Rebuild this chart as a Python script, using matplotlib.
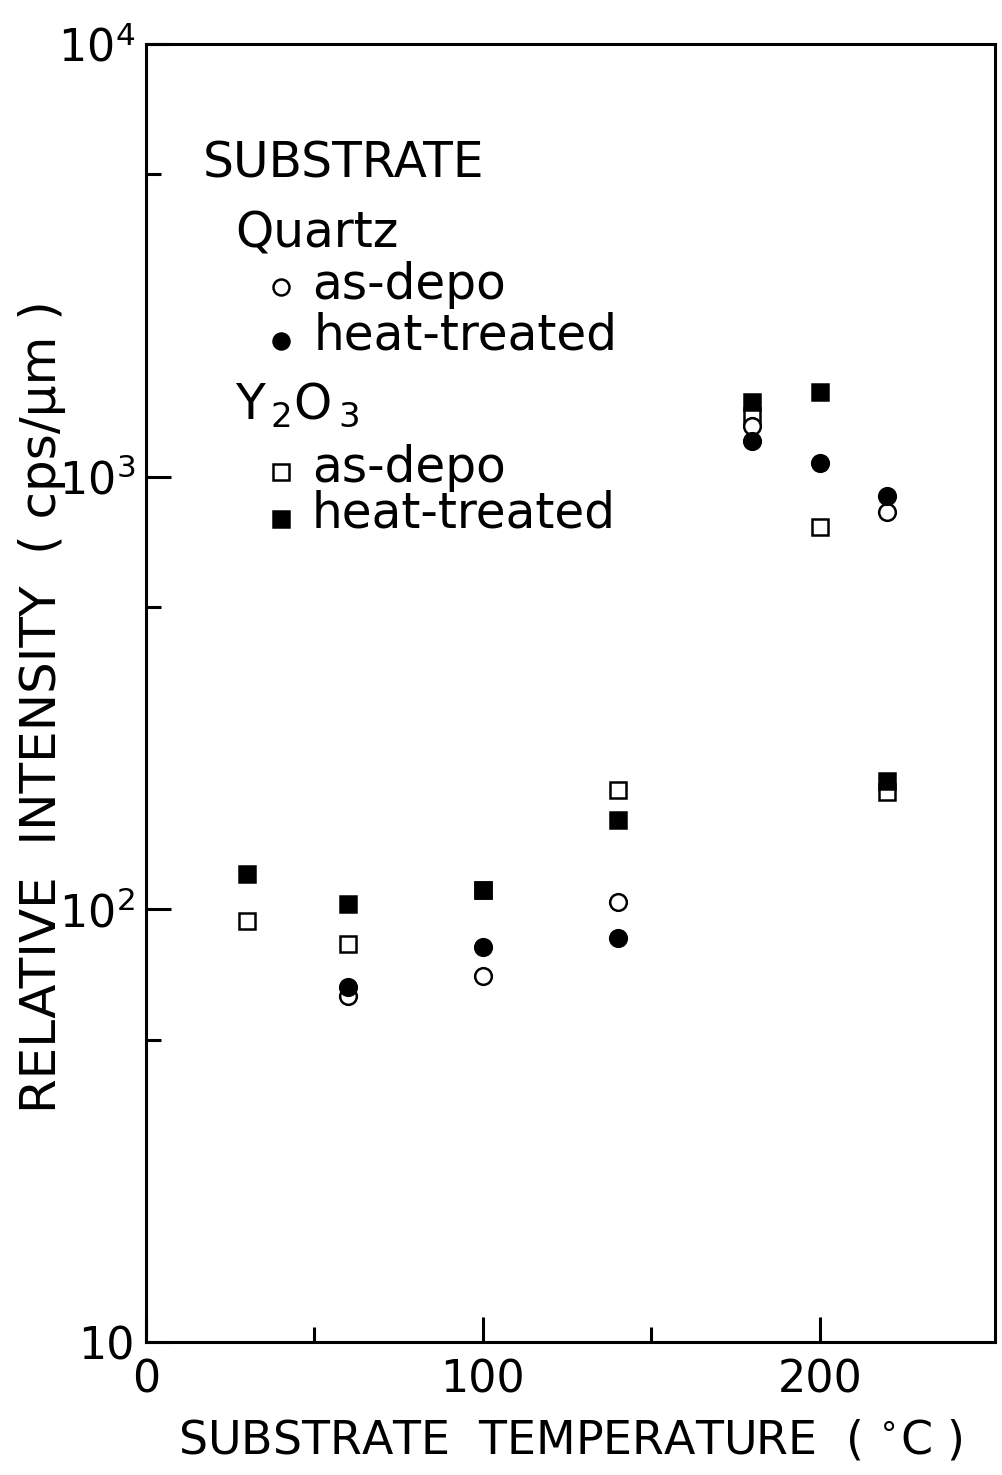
import matplotlib
matplotlib.use("Agg")
import matplotlib.pyplot as plt
from matplotlib.ticker import FixedLocator, FixedFormatter

# Relative intensity vs. substrate temperature
temp_c = [30, 60, 100, 140, 180, 200, 220]

quartz_as_depo_t = [60, 100, 140, 180, 220]
quartz_as_depo = [63, 70, 104, 1310, 830]

quartz_heat_t = [60, 100, 140, 180, 200, 220]
quartz_heat = [66, 82, 86, 1210, 1077, 900]

y2o3_as_depo_t = [30, 60, 100, 140, 180, 200, 220]
y2o3_as_depo = [94, 83, 111, 189, 1380, 767, 187]

y2o3_heat_t = [30, 60, 100, 140, 180, 200, 220]
y2o3_heat = [121, 103, 111, 161, 1490, 1570, 198]

y_major = [10, 100, 1000, 10000]
y_major_labels = ["10", "10$^2$", "10$^3$", "10$^4$"]
y_minor = [50, 500, 5000]
x_major = [0, 100, 200]
x_major_labels = ["0", "100", "200"]
x_minor = [50, 150]

plt.rcParams["font.family"] = ["DejaVu Sans"]
plt.rcParams["mathtext.fontset"] = "dejavusans"

fig = plt.figure(figsize=(10.02, 14.75), dpi=100)
ax = fig.add_axes([146 / 1002, 133 / 1475, (995 - 146) / 1002, (1342 - 44) / 1475])

ax.set_yscale("log")
ax.set_xlim(0, 252)
ax.set_ylim(10, 10000)

ms = 12
ew = 1.8
ax.plot(y2o3_as_depo_t, y2o3_as_depo, "s", ms=ms, mfc="white", mec="black", mew=ew, ls="none")
ax.plot(quartz_as_depo_t, quartz_as_depo, "o", ms=ms, mfc="white", mec="black", mew=ew, ls="none")
ax.plot(y2o3_heat_t, y2o3_heat, "s", ms=ms, mfc="black", mec="black", mew=ew, ls="none")
ax.plot(quartz_heat_t, quartz_heat, "o", ms=ms, mfc="black", mec="black", mew=ew, ls="none")

for s in ax.spines.values():
    s.set_linewidth(2.2)

ax.xaxis.set_major_locator(FixedLocator(x_major))
ax.xaxis.set_major_formatter(FixedFormatter(x_major_labels))
ax.xaxis.set_minor_locator(FixedLocator(x_minor))
ax.yaxis.set_major_locator(FixedLocator(y_major))
ax.yaxis.set_major_formatter(FixedFormatter(y_major_labels))
ax.yaxis.set_minor_locator(FixedLocator(y_minor))
ax.yaxis.set_minor_formatter(FixedFormatter([]))

ax.tick_params(axis="both", which="major", direction="in", length=18, width=2.2,
               labelsize=32, pad=8)
ax.tick_params(axis="both", which="minor", direction="in", length=11, width=2.2)
ax.tick_params(axis="x", which="major", pad=12)

ax.set_xlabel("SUBSTRATE  TEMPERATURE  ( $^{\\circ}$C )", fontsize=33)
ax.xaxis.set_label_coords((570 - 146) / 849, -(1418 - 1342) / 1298)
ax.set_ylabel("RELATIVE  INTENSITY  ( cps/μm )", fontsize=36)
ax.yaxis.set_label_coords(-(146 - 66) / 849, (1342 - 707) / 1298)

# Key drawn inside the axes
def px(x, y):
    return ((x - 146) / (995 - 146), (1342 - y) / (1342 - 44))

kw = dict(transform=ax.transAxes, va="center", ha="left", fontsize=35)
ax.text(*px(203, 163), "SUBSTRATE", **kw)
ax.text(*px(235, 233), "Quartz", **kw)
ax.text(*px(312, 285), "as-depo", **kw)
ax.text(*px(314, 336), "heat-treated", **kw)
ax.text(*px(235, 405), "Y$_{\\,2}$O$_{\\,3}$", **kw)
ax.text(*px(312, 468), "as-depo", **kw)
ax.text(*px(312, 514), "heat-treated", **kw)

lk = dict(transform=ax.transAxes, ls="none", ms=11.5, mew=1.8, mec="black", clip_on=False)
ax.plot(*px(281, 287), "o", mfc="white", **lk)
ax.plot(*px(281, 341), "o", mfc="black", **lk)
ax.plot(*px(281, 472), "s", mfc="white", **lk)
ax.plot(*px(281, 519), "s", mfc="black", **lk)

fig.savefig("out.png", dpi=100)
